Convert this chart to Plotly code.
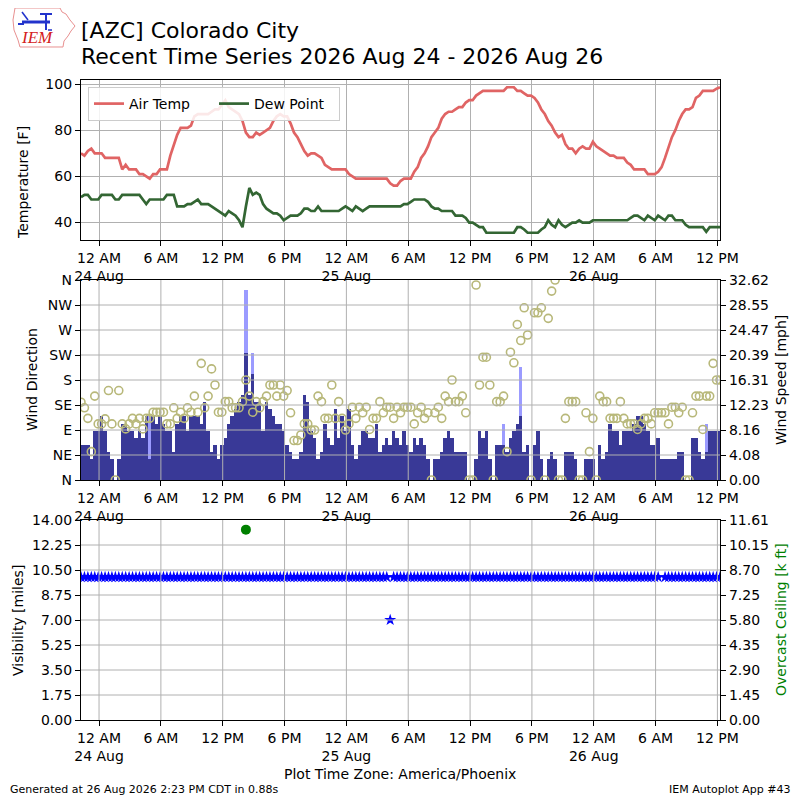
import plotly.graph_objects as go
import pandas as pd

# ---------------- data (20-minute observations) ----------------
START = "2026-08-23 22:15"
END = "2026-08-26 12:15"

temp_f = [
    70, 69, 71, 72, 70, 70, 70, 68, 68, 68,
    68, 68, 63, 65, 63, 63, 63, 61, 61, 60,
    59, 61, 61, 63, 63, 63, 69, 74, 78, 81,
    81, 81, 82, 86, 87, 87, 87, 87, 88, 89,
    89, 91, 93, 90, 89, 88, 87, 84, 79, 77,
    77, 79, 78, 79, 80, 81, 84, 86, 87, 86,
    86, 83, 79, 77, 74, 71, 69, 70, 70, 69,
    68, 65, 64, 63, 63, 63, 63, 63, 61, 60,
    59, 59, 59, 59, 59, 59, 59, 59, 59, 59,
    57, 56, 56, 58, 59, 59, 59, 62, 64, 68,
    70, 73, 77, 79, 81, 85, 87, 88, 88, 89,
    90, 90, 92, 93, 93, 95, 96, 97, 97, 97,
    97, 97, 97, 97, 98.6, 98.6, 98.6, 97, 97, 96,
    95, 95, 94, 92, 89, 87, 84, 82, 79, 77,
    78, 74, 72, 72, 70, 72, 73, 72, 72, 75,
    73, 72, 71, 70, 69, 69, 68, 68, 68, 66,
    65, 63, 63, 63, 63, 61, 61, 61, 62, 64,
    68, 73, 77, 80, 84, 87, 89, 89, 90, 94,
    95, 97, 97, 97, 97, 98, 98.6,
]

dewp_f = [
    51, 52, 52, 50, 50, 50, 52, 52, 52, 52,
    50, 50, 52, 52, 52, 52, 52, 52, 50, 48,
    50, 50, 50, 50, 50, 52, 52, 52, 47, 47,
    47, 48, 48, 49, 50, 48, 48, 48, 47, 46,
    45, 44, 43, 45, 44, 43, 41, 38, 47, 55,
    52, 53, 52, 48, 46, 45, 44, 44, 43, 41,
    42, 43, 43, 43, 44, 46, 46, 45, 45, 47,
    45, 45, 45, 45, 45, 45, 46, 47, 46, 45,
    47, 46, 45, 46, 47, 47, 47, 47, 47, 47,
    47, 47, 47, 47, 48, 48, 49, 50, 50, 50,
    50, 49, 47, 46, 46, 45, 45, 45, 45, 43,
    43, 43, 42, 40, 40, 39, 38, 38, 35.6, 35.6,
    35.6, 35.6, 35.6, 35.6, 35.6, 35.6, 35.6, 38, 38, 37,
    35.6, 35.6, 35.6, 35.6, 37, 38, 41, 39, 38, 41,
    39, 38, 39, 40, 40, 41, 40, 40, 40, 41,
    41, 41, 41, 41, 41, 41, 41, 41, 41, 41,
    42, 43, 43, 42, 41, 43, 42, 41, 43, 42,
    41, 43, 43, 41, 41, 41, 39, 38, 38, 38,
    38, 38, 36, 38, 38, 38, 38,
]

wind_mph = [
    5.75, 5.75, 5.75, 3.45, 8.05, 8.05, 10.36, 8.05, 4.6, 3.45,
    0, 3.45, 9.2, 9.2, 8.05, 8.05, 6.9, 8.05, 6.9, 10.36,
    3.45, 10.36, 9.2, 10.36, 9.2, 8.05, 8.05, 4.6, 9.2, 10.36,
    10.36, 8.05, 10.36, 10.36, 10.36, 9.2, 12.66, 8.05, 4.6, 5.75,
    3.45, 5.75, 6.9, 9.2, 10.36, 11.5, 12.66, 13.8, 20.7, 13.8,
    17.3, 12.66, 12.66, 8.05, 12.66, 11.5, 10.36, 9.2, 9.2, 8.05,
    5.75, 4.6, 3.45, 3.45, 4.6, 13.8, 12.66, 8.05, 6.9, 3.45,
    4.6, 9.2, 6.9, 5.75, 11.5, 6.9, 10.36, 8.05, 11.5, 5.75,
    3.45, 5.75, 8.05, 8.05, 6.9, 6.9, 9.2, 4.6, 5.75, 6.9,
    5.75, 8.05, 6.9, 5.75, 8.05, 5.75, 4.6, 6.9, 5.75, 6.9,
    5.75, 3.45, 0, 3.45, 3.45, 4.6, 6.9, 8.05, 6.9, 4.6,
    4.6, 4.6, 4.6, 0, 0, 3.45, 8.05, 6.9, 8.05, 3.45,
    0, 5.75, 5.75, 5.75, 4.6, 6.9, 8.05, 9.2, 10.36, 4.6,
    5.75, 0, 5.75, 8.05, 3.45, 0, 3.45, 4.6, 3.45, 0,
    0, 4.6, 4.6, 4.6, 3.45, 0, 0, 3.45, 3.45, 3.45,
    0, 5.75, 3.45, 4.6, 9.2, 8.05, 8.05, 5.75, 8.05, 8.05,
    8.05, 9.2, 10.36, 10.36, 9.2, 8.05, 5.75, 5.75, 6.9, 3.45,
    3.45, 3.45, 3.45, 3.45, 4.6, 4.6, 0, 0, 6.9, 6.9,
    4.6, 3.45, 4.6, 8.05, 8.05, 8.05, 8.05,
]

gust_index = [20, 48, 50, 123, 128, 182]
gust_mph = [10.36, 31.07, 20.7, 9.2, 18.4, 9.2]

wind_dir = [
    140, 130, 111, 51, 151, 101, 101, 110, 161, 101,
    0, 161, 101, 92, 101, 111, 101, 111, 92, 111,
    111, 122, 122, 122, 122, 101, 101, 130, 111, 122,
    111, 130, 122, 151, 122, 210, 130, 151, 200, 171,
    122, 122, 141, 141, 130, 130, 130, 141, 180, 151,
    122, 141, 130, 141, 151, 171, 171, 151, 171, 151,
    161, 121, 71, 71, 81, 101, 101, 90, 90, 151,
    141, 111, 111, 171, 111, 141, 111, 90, 101, 131,
    111, 131, 121, 131, 91, 111, 111, 141, 121, 131,
    131, 111, 131, 121, 131, 131, 131, 101, 121, 131,
    111, 121, 0, 121, 131, 111, 151, 141, 180, 141,
    141, 151, 121, 0, 0, 351, 171, 221, 221, 171,
    0, 141, 141, 151, 51, 230, 211, 280, 251, 310,
    261, 0, 301, 301, 310, 0, 291, 340, 360, 0,
    0, 111, 141, 141, 141, 0, 0, 121, 51, 111,
    0, 151, 141, 141, 111, 111, 111, 141, 111, 101,
    101, 101, 91, 101, 111, 111, 101, 121, 121, 121,
    121, 101, 131, 131, 121, 131, 0, 0, 121, 151,
    151, 91, 151, 151, 210, 180, 180,
]

vis_miles = [
    10, 10, 10, 10, 10, 10, 10, 10, 10, 10,
    10, 10, 10, 10, 10, 10, 10, 10, 10, 10,
    10, 10, 10, 10, 10, 10, 10, 10, 10, 10,
    10, 10, 10, 10, 10, 10, 10, 10, 10, 10,
    10, 10, 10, 10, 10, 10, 10, 10, 10, 10,
    10, 10, 10, 10, 10, 10, 10, 10, 10, 10,
    10, 10, 10, 10, 10, 10, 10, 10, 10, 10,
    10, 10, 10, 10, 10, 10, 10, 10, 10, 10,
    10, 10, 10, 10, 10, 10, 10, 10, 10, 10,
    7, 10, 10, 10, 10, 10, 10, 10, 10, 10,
    10, 10, 10, 10, 10, 10, 10, 10, 10, 10,
    10, 10, 10, 10, 10, 10, 10, 10, 10, 10,
    10, 10, 10, 10, 10, 10, 10, 10, 10, 10,
    10, 10, 10, 10, 10, 10, 10, 10, 10, 10,
    10, 10, 10, 10, 10, 10, 10, 10, 10, 10,
    10, 10, 10, 10, 10, 10, 10, 10, 10, 10,
    10, 10, 10, 10, 10, 10, 10, 10, 10, None,
    10, 10, 10, 10, 10, 10, 10, 10, 10, 10,
    10, 10, 10, 10, 10, 10, 10,
]

ceiling_index = [48]
ceiling_kft = [11.05]

x_tick_vals = ["2026-08-24 00:00", "2026-08-24 06:00", "2026-08-24 12:00", "2026-08-24 18:00",
               "2026-08-25 00:00", "2026-08-25 06:00", "2026-08-25 12:00", "2026-08-25 18:00",
               "2026-08-26 00:00", "2026-08-26 06:00", "2026-08-26 12:00"]
x_tick_text = ["12 AM<br>24 Aug", "6 AM", "12 PM", "6 PM", "12 AM<br>25 Aug", "6 AM",
               "12 PM", "6 PM", "12 AM<br>26 Aug", "6 AM", "12 PM"]

temp_ticks = [40, 60, 80, 100]
dir_ticks = [0, 45, 90, 135, 180, 225, 270, 315, 360]
dir_labels = ["N", "NE", "E", "SE", "S", "SW", "W", "NW", "N"]
speed_max = 32.62
speed_labels = ["0.00", "4.08", "8.16", "12.23", "16.31", "20.39", "24.47", "28.55", "32.62"]
vis_max = 14.0
vis_labels = ["0.00", "1.75", "3.50", "5.25", "7.00", "8.75", "10.50", "12.25", "14.00"]
ceil_max = 11.61
ceil_labels = ["0.00", "1.45", "2.90", "4.35", "5.80", "7.25", "8.70", "10.15", "11.61"]

# ---------------- build ----------------
def times(n):
    return pd.date_range(START, periods=n, freq="20min")

t_all = times(len(wind_mph))
gust_series = [None] * len(wind_mph)
for i, g in zip(gust_index, gust_mph):
    gust_series[i] = g
ceil_series = [None] * len(vis_miles)
for i, c in zip(ceiling_index, ceiling_kft):
    ceil_series[i] = c

FONT = "DejaVu Sans"
GRID = "#b0b0b0"
OFF = 8            # page body margin of the browser
W, H = 800 - OFF, 800 - OFF

def px_x(p):
    return (p - OFF) / W

def px_y(p):
    return 1 - (p - OFF) / H

fig = go.Figure()

# Top panel
fig.add_trace(go.Scatter(x=times(len(temp_f)), y=temp_f, mode="lines", name="Air Temp",
                         line=dict(color="#e06464", width=2.7), xaxis="x", yaxis="y"))
fig.add_trace(go.Scatter(x=times(len(dewp_f)), y=dewp_f, mode="lines", name="Dew Point",
                         line=dict(color="#336633", width=2.7), xaxis="x", yaxis="y"))

# Middle panel: gust bars, wind bars (speed axis), direction circles (overlay)
BAR_W = 20 * 60 * 1000
fig.add_trace(go.Bar(x=t_all, y=gust_series, width=BAR_W, marker=dict(color="#9b9bff", line=dict(width=0)),
                     showlegend=False, xaxis="x2", yaxis="y2"))
fig.add_trace(go.Bar(x=t_all, y=wind_mph, width=BAR_W, marker=dict(color="#393997", line=dict(width=0)),
                     showlegend=False, xaxis="x2", yaxis="y2"))
fig.add_trace(go.Scatter(x=times(len(wind_dir)), y=wind_dir, mode="markers", showlegend=False,
                         marker=dict(symbol="circle-open", size=8, color="#b8b87a", line=dict(width=1.6, color="#b8b87a")),
                         xaxis="x2", yaxis="y3"))

# Bottom panel
fig.add_trace(go.Scatter(x=times(len(vis_miles)), y=vis_miles, mode="markers", showlegend=False,
                         marker=dict(symbol="star", size=9, color="#0000ff", line=dict(width=0)),
                         xaxis="x3", yaxis="y4"))
fig.add_trace(go.Scatter(x=times(len(ceil_series)), y=ceil_series, mode="markers", showlegend=False,
                         marker=dict(symbol="circle", size=10, color="#008000", line=dict(width=0)),
                         xaxis="x3", yaxis="y5"))

xdom = [px_x(81), px_x(720)]
d_top = [px_y(240), px_y(80)]
d_mid = [px_y(480), px_y(280)]
d_bot = [px_y(720), px_y(520)]

tickfont = dict(family=FONT, size=14, color="black")

def xax(anchor, grid):
    return dict(domain=xdom, anchor=anchor, type="date", range=[START, END], automargin=False,
                tickmode="array", tickvals=x_tick_vals, ticktext=x_tick_text,
                tickfont=tickfont, ticks="outside", ticklen=5, tickcolor="black",
                showline=True, linecolor="black", linewidth=1.2, mirror=True,
                showgrid=grid, gridcolor=GRID, gridwidth=1, zeroline=False)

def yax(dom, rng, vals, text, side="left", anchor="x", grid=False, overlay=None):
    d = dict(domain=dom, anchor=anchor, range=rng, tickmode="array", tickvals=vals, ticktext=text,
             tickfont=tickfont, ticks="outside", ticklen=5, tickcolor="black", automargin=False,
             showline=True, linecolor="black", linewidth=1.2,
             showgrid=grid, gridcolor=GRID, gridwidth=1, zeroline=False, side=side)
    if overlay:
        d["overlaying"] = overlay
        d.pop("domain")
    return d

fig.update_layout(
    width=W, height=H, margin=dict(l=0, r=0, t=0, b=0, autoexpand=False),
    paper_bgcolor="white", plot_bgcolor="white",
    font=dict(family=FONT, size=14, color="black"),
    barmode="overlay", bargap=0,
    xaxis=xax("y", True),
    yaxis=dict(yax(d_top, [32.45, 101.75], temp_ticks, [str(v) for v in temp_ticks], grid=True), mirror=True),
    xaxis2=dict(xax("y2", False), matches="x"),
    yaxis2=yax(d_mid, [0, speed_max], [speed_max * k / 8 for k in range(9)], speed_labels,
               side="right", anchor="x2"),
    yaxis3=yax(d_mid, [0, 360], dir_ticks, dir_labels, side="left", anchor="x2", overlay="y2"),
    xaxis3=dict(xax("y4", False), matches="x"),
    yaxis4=yax(d_bot, [0, vis_max], [vis_max * k / 8 for k in range(9)], vis_labels,
               side="left", anchor="x3"),
    yaxis5=yax(d_bot, [0, ceil_max], [ceil_max * k / 8 for k in range(9)], ceil_labels,
               side="right", anchor="x3", overlay="y4"),
    legend=dict(orientation="h", x=px_x(88), y=px_y(87), xanchor="left", yanchor="top",
                bgcolor="rgba(255,255,255,0.85)", bordercolor="#cccccc", borderwidth=1,
                font=dict(family=FONT, size=14), itemwidth=30, entrywidth=80,
                entrywidthmode="pixels", tracegroupgap=0),
    showlegend=True,
)

# Grid lines drawn above the bars / markers for the lower two panels
shapes = []
for xr, yr in (("x2", "y2"), ("x3", "y4")):
    for tv in x_tick_vals:
        shapes.append(dict(type="line", xref=xr, yref=yr + " domain", x0=tv, x1=tv, y0=0, y1=1,
                           line=dict(color=GRID, width=1), layer="above"))
    for k in range(1, 8):
        shapes.append(dict(type="line", xref=xr + " domain", yref=yr + " domain", x0=0, x1=1,
                           y0=k / 8, y1=k / 8, line=dict(color=GRID, width=1), layer="above"))

# IEM logo (approximate)
def ppath(pts):
    s = ""
    for j, (a, b) in enumerate(pts):
        s += ("M" if j == 0 else "L") + f"{px_x(a):.5f},{px_y(b):.5f} "
    return s + "Z"

iowa = [(15, 8), (60, 8), (62, 12), (66, 14), (70, 20), (75, 26), (71, 31), (68, 36), (64, 41),
        (63, 47), (20, 47), (18, 40), (14, 30), (13, 20)]
shapes.append(dict(type="path", xref="paper", yref="paper", path=ppath(iowa),
                   line=dict(color="#e89090", width=1), fillcolor="rgba(0,0,0,0)", layer="above"))
for (a0, b0, a1, b1, w) in [(22, 22, 50, 22, 3), (46, 14, 46, 30, 2), (22, 12, 28, 20, 1.5),
                            (40, 14, 52, 14, 2), (18, 24, 24, 24, 2), (48, 30, 52, 30, 1.5)]:
    shapes.append(dict(type="line", xref="paper", yref="paper", x0=px_x(a0), y0=px_y(b0),
                       x1=px_x(a1), y1=px_y(b1), line=dict(color="#2233cc", width=w), layer="above"))

fig.update_layout(shapes=shapes)

ann = [
    dict(text="[AZC] Colorado City", x=px_x(79), y=px_y(30), xanchor="left", yanchor="middle",
         font=dict(family=FONT, size=22, color="black")),
    dict(text="Recent Time Series 2026 Aug 24 - 2026 Aug 26", x=px_x(79), y=px_y(57), xanchor="left",
         yanchor="middle", font=dict(family=FONT, size=22, color="black")),
    dict(text="Plot Time Zone: America/Phoenix", x=px_x(400), y=px_y(774), xanchor="center",
         yanchor="middle", font=dict(family=FONT, size=14, color="black")),
    dict(text="Generated at 26 Aug 2026 2:23 PM CDT in 0.88s", x=px_x(8), y=px_y(789), xanchor="left",
         yanchor="middle", font=dict(family=FONT, size=11, color="black")),
    dict(text="IEM Autoplot App #43", x=px_x(793), y=px_y(789), xanchor="right", yanchor="middle",
         font=dict(family=FONT, size=11, color="black")),
    dict(text="<i>IEM</i>", x=px_x(37), y=px_y(37), xanchor="center", yanchor="middle",
         font=dict(family="Liberation Serif", size=17, color="#d42020")),
    # axis titles
    dict(text="Temperature [F]", x=px_x(23), y=px_y(183), textangle=-90, xanchor="center",
         yanchor="middle", font=dict(family=FONT, size=14, color="black")),
    dict(text="Wind Direction", x=px_x(32), y=px_y(380), textangle=-90, xanchor="center",
         yanchor="middle", font=dict(family=FONT, size=14, color="black")),
    dict(text="Visibility [miles]", x=px_x(18), y=px_y(621), textangle=-90, xanchor="center",
         yanchor="middle", font=dict(family=FONT, size=14, color="black")),
    dict(text="Wind Speed [mph]", x=px_x(781), y=px_y(380), textangle=-90, xanchor="center",
         yanchor="middle", font=dict(family=FONT, size=14, color="black")),
    dict(text="Overcast Ceiling [k ft]", x=px_x(781), y=px_y(620), textangle=-90, xanchor="center",
         yanchor="middle", font=dict(family=FONT, size=14, color="#008000")),
]
for a in ann:
    a.update(xref="paper", yref="paper", showarrow=False)
fig.update_layout(annotations=ann)

fig.write_html("out.html")
